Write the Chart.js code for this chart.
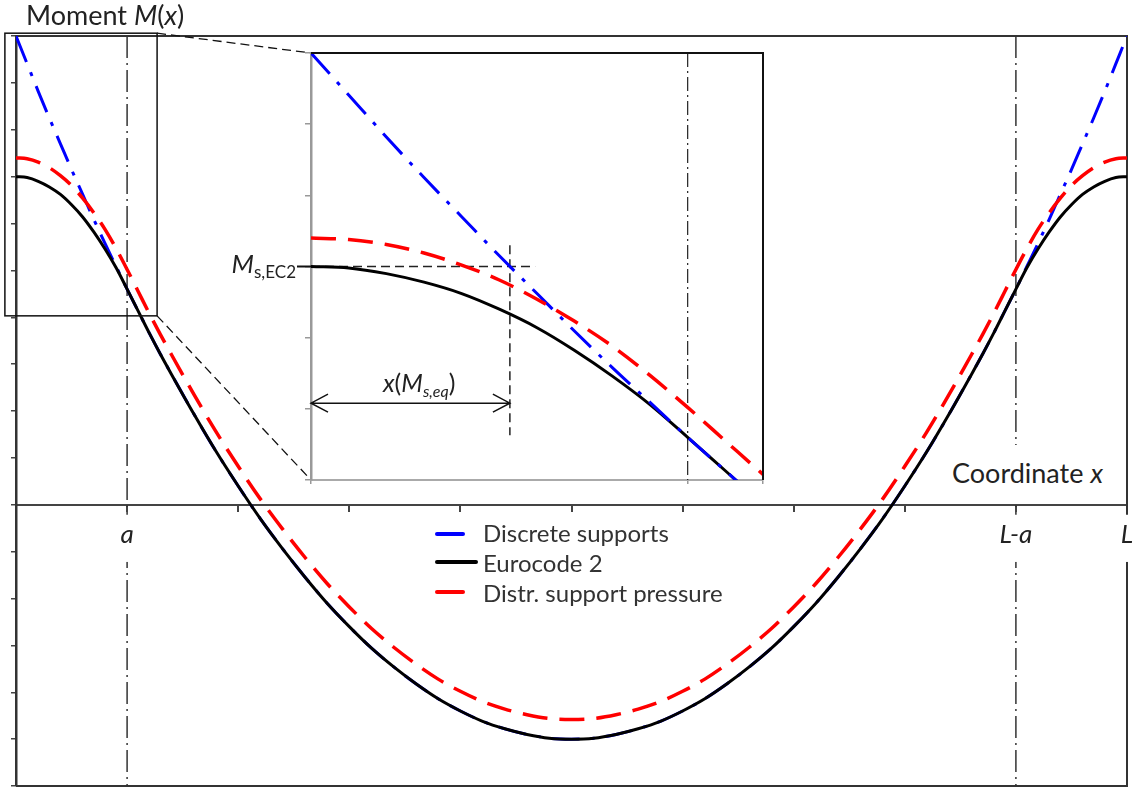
<!DOCTYPE html>
<html><head><meta charset="utf-8">
<script src="https://cdn.jsdelivr.net/npm/chart.js@4.4.0/dist/chart.umd.min.js"></script>
<style>
html,body{margin:0;padding:0;background:#fff;}
#wrap{position:relative;width:1134px;height:787px;overflow:hidden;font-family:Lato,'Open Sans',sans-serif;color:#222;}
canvas{position:absolute;}
#main{left:0;top:0;}
#inset{left:290px;top:40px;}
.lbl{position:absolute;white-space:nowrap;line-height:1;}
.sw{position:absolute;height:4px;border-radius:2px;}
</style></head>
<body><div id="wrap">
<canvas id="main" width="1134" height="787"></canvas>
<canvas id="inset" width="480" height="450"></canvas>
<div class="lbl" style="left:26px;top:1px;font-size:27px;">Moment <i>M</i>(<i>x</i>)</div>
<div class="lbl" style="left:945px;top:445px;width:180px;height:58px;background:#fff;"><span class="lbl" style="left:7px;top:14px;font-size:27px;">Coordinate <i>x</i></span></div>
<div class="sw" style="left:435px;top:532px;width:30px;background:#0000ff;"></div>
<div class="sw" style="left:435px;top:560px;width:43px;background:#000;"></div>
<div class="sw" style="left:435px;top:590px;width:30px;background:#ff0000;"></div>
<div class="lbl" id="lg0" style="left:483px;top:521px;font-size:24px;color:#333;"></div>
<div class="lbl" id="lg1" style="left:483px;top:551px;font-size:24px;color:#333;"></div>
<div class="lbl" id="lg2" style="left:483px;top:581px;font-size:24px;color:#333;"></div>
<div class="lbl" style="left:196px;width:100px;text-align:right;top:250px;font-size:26px;"><i>M</i><span style="font-size:17px;position:relative;top:5px;">s,EC2</span></div>
<div class="lbl" style="left:383px;top:370px;font-size:25px;"><i>x</i>(<i>M</i><span style="font-size:16px;position:relative;top:5px;font-style:italic;">s,eq</span>)</div>
</div>
<script>
// ---- data (x in units of span, L = 10, a = 1) ----
const xs = [0,0.1,0.2,0.3,0.4,0.5,0.6,0.7,0.8,0.9,1.0,1.1,1.2,1.3,1.4,
  1.6,1.8,2.0,2.2,2.4,2.6,2.8,3.0,3.2,3.4,3.6,3.8,4.0,4.2,4.4,4.6,4.8,5.0,
  5.2,5.4,5.6,5.8,6.0,6.2,6.4,6.6,6.8,7.0,7.2,7.4,7.6,7.8,8.0,8.2,8.4,
  8.6,8.7,8.8,8.9,9.0,9.1,9.2,9.3,9.4,9.5,9.6,9.7,9.8,9.9,10];
const discreteSupports = [10.00,9.41,8.82,8.25,7.70,7.15,6.62,6.09,5.58,5.09,4.60,4.13,3.66,3.21,2.78,
  1.94,1.14,0.40,-0.30,-0.94,-1.54,-2.10,-2.60,-3.06,-3.46,-3.82,-4.14,-4.40,-4.62,-4.78,-4.90,-4.98,-5.00,
  -4.98,-4.90,-4.78,-4.62,-4.40,-4.14,-3.82,-3.46,-3.06,-2.60,-2.10,-1.54,-0.94,-0.30,0.40,1.14,1.94,
  2.78,3.21,3.66,4.13,4.60,5.09,5.58,6.09,6.62,7.15,7.70,8.25,8.82,9.41,10.00];
const eurocode2 = [7.00,6.98,6.90,6.78,6.62,6.40,6.14,5.82,5.46,5.06,4.60,4.13,3.66,3.21,2.78,
  1.94,1.14,0.40,-0.30,-0.94,-1.54,-2.10,-2.60,-3.06,-3.46,-3.82,-4.14,-4.40,-4.62,-4.78,-4.90,-4.98,-5.00,
  -4.98,-4.90,-4.78,-4.62,-4.40,-4.14,-3.82,-3.46,-3.06,-2.60,-2.10,-1.54,-0.94,-0.30,0.40,1.14,1.94,
  2.78,3.21,3.66,4.13,4.60,5.06,5.46,5.82,6.14,6.40,6.62,6.78,6.90,6.98,7.00];
const distrSupportPressure = [7.40,7.38,7.31,7.19,7.02,6.81,6.54,6.23,5.88,5.47,5.02,4.55,4.08,3.63,3.20,
  2.36,1.56,0.82,0.12,-0.52,-1.12,-1.68,-2.18,-2.64,-3.04,-3.40,-3.72,-3.98,-4.20,-4.36,-4.48,-4.56,-4.58,
  -4.56,-4.48,-4.36,-4.20,-3.98,-3.72,-3.40,-3.04,-2.64,-2.18,-1.68,-1.12,-0.52,0.12,0.82,1.56,2.36,
  3.20,3.63,4.08,4.55,5.02,5.47,5.88,6.23,6.54,6.81,7.02,7.19,7.31,7.38,7.40];
const seriesNames = ['Discrete supports', 'Eurocode 2', 'Distr. support pressure'];
const xTickValues = [1, 9, 10];
const xTickLabels = ['a', 'L-a', 'L'];
const supportLines = [1, 9];          // x = a and x = L-a
const mainRangeX = [0, 10], mainRangeY = [-6, 10];
const insetRangeX = [0, 1.2], insetRangeY = [4, 10];
const zoomBox = {x0: -0.1, x1: 1.27, y0: 4.03, y1: 10.06};
const msEC2 = 7.0;          // M_s,EC2
const xMsEq = 0.528;        // x(M_s,eq)
const arrowLevel = 5.08;    // M level of the dimension arrow
const hLineEnd = 0.595, vLineTop = 7.30, vLineBottom = 4.63;

seriesNames.forEach((n, i) => document.getElementById('lg' + i).textContent = n);
const pts = arr => xs.map((x, i) => ({x, y: arr[i]}));

function makeSets(order) {
  return [
    {label: seriesNames[0], data: pts(discreteSupports), borderColor: '#0000ff', borderWidth: 3,
     borderDash: [28, 11, 4, 11], order: order[0]},
    {label: seriesNames[1], data: pts(eurocode2), borderColor: '#000000', borderWidth: 3, order: order[1]},
    {label: seriesNames[2], data: pts(distrSupportPressure), borderColor: '#ff0000', borderWidth: 3.5,
     borderDash: [25, 12], order: order[2]}
  ].map(d => Object.assign(d, {pointRadius: 0, fill: false, cubicInterpolationMode: 'monotone'}));
}

// ---------------- inset ----------------
const insetDecor = {
  id: 'insetDecor',
  beforeDraw(c) {
    const {ctx, chartArea: a} = c;
    ctx.save(); ctx.fillStyle = '#fff'; ctx.fillRect(a.left, a.top, a.right - a.left, a.bottom - a.top); ctx.restore();
  },
  beforeDatasetsDraw(c) {
    const {ctx, chartArea: a, scales: {x, y}} = c;
    ctx.save();
    ctx.strokeStyle = '#222'; ctx.lineWidth = 1.2; ctx.setLineDash([14, 4, 2, 4]);
    const px = x.getPixelForValue(supportLines[0]);
    ctx.beginPath(); ctx.moveTo(px, a.top); ctx.lineTo(px, a.bottom); ctx.stroke();
    ctx.lineWidth = 1.5; ctx.setLineDash([9, 5]);
    const yM = y.getPixelForValue(msEC2);
    ctx.beginPath(); ctx.moveTo(a.left, yM); ctx.lineTo(x.getPixelForValue(hLineEnd), yM); ctx.stroke();
    const xe = x.getPixelForValue(xMsEq);
    ctx.beginPath(); ctx.moveTo(xe, y.getPixelForValue(vLineTop)); ctx.lineTo(xe, y.getPixelForValue(vLineBottom)); ctx.stroke();
    ctx.restore();
  },
  afterDatasetsDraw(c) {
    const {ctx, chartArea: a, scales: {x, y}} = c;
    ctx.save();
    ctx.strokeStyle = '#111'; ctx.lineWidth = 2;
    ctx.beginPath(); ctx.moveTo(a.left, a.top); ctx.lineTo(a.right, a.top); ctx.lineTo(a.right, a.bottom); ctx.stroke();
    const yM = y.getPixelForValue(msEC2);
    ctx.beginPath(); ctx.moveTo(a.left - 14, yM); ctx.lineTo(a.left, yM); ctx.stroke();
    const ya = y.getPixelForValue(arrowLevel), x0 = x.getPixelForValue(0), x1 = x.getPixelForValue(xMsEq);
    ctx.lineWidth = 1.5;
    ctx.beginPath(); ctx.moveTo(x0, ya); ctx.lineTo(x1, ya);
    ctx.moveTo(x0 + 17, ya - 9); ctx.lineTo(x0, ya); ctx.lineTo(x0 + 17, ya + 9);
    ctx.moveTo(x1 - 17, ya - 9); ctx.lineTo(x1, ya); ctx.lineTo(x1 - 17, ya + 9);
    ctx.stroke();
    ctx.restore();
  }
};

const noPad = s => { s.paddingLeft = 0; s.paddingRight = 0; s.paddingTop = 0; s.paddingBottom = 0; };

const insetChart = new Chart(document.getElementById('inset'), {
  type: 'line',
  data: {datasets: makeSets([1, 2, 0])},
  options: {
    responsive: false, animation: false, events: [],
    layout: {padding: {left: 15, top: 13, right: 7, bottom: 10}},
    plugins: {legend: {display: false}, tooltip: {enabled: false}},
    scales: {
      x: {type: 'linear', min: insetRangeX[0], max: insetRangeX[1],
          ticks: {display: false, stepSize: 1},
          grid: {drawOnChartArea: false, tickLength: 4, color: '#999', lineWidth: 1.5},
          border: {color: '#aaa', width: 2},
          afterFit: s => { s.height = 0; noPad(s); }},
      y: {type: 'linear', min: insetRangeY[0], max: insetRangeY[1],
          ticks: {display: false, stepSize: 1},
          grid: {drawOnChartArea: false, tickLength: 6, color: '#999', lineWidth: 1.5},
          border: {color: '#999', width: 2.5},
          afterFit: s => { s.width = 6; noPad(s); }}
    }
  },
  plugins: [insetDecor]
});

// ---------------- main chart ----------------
const INSET_LEFT = 290, INSET_TOP = 40;
const mainDecor = {
  id: 'mainDecor',
  beforeDatasetsDraw(c) {
    const {ctx, chartArea: a, scales: {x}} = c;
    ctx.save();
    ctx.strokeStyle = '#333'; ctx.lineWidth = 2;
    ctx.beginPath(); ctx.moveTo(a.left, a.top); ctx.lineTo(a.right, a.top); ctx.lineTo(a.right, a.bottom); ctx.lineTo(a.left, a.bottom); ctx.stroke();
    ctx.lineWidth = 1.5; ctx.setLineDash([22, 5, 2, 5]);
    supportLines.forEach(v => {
      const px = x.getPixelForValue(v);
      ctx.beginPath(); ctx.moveTo(px, a.top); ctx.lineTo(px, a.bottom); ctx.stroke();
    });
    ctx.restore();
  },
  afterDatasetsDraw(c) {
    const {ctx, scales: {x, y}} = c;
    const bx0 = x.getPixelForValue(zoomBox.x0), bx1 = x.getPixelForValue(zoomBox.x1);
    const by0 = y.getPixelForValue(zoomBox.y1), by1 = y.getPixelForValue(zoomBox.y0);
    const ia = insetChart.chartArea;
    ctx.save();
    ctx.strokeStyle = '#111'; ctx.lineWidth = 1.5;
    ctx.strokeRect(bx0, by0, bx1 - bx0, by1 - by0);
    ctx.setLineDash([9, 5]); ctx.lineWidth = 1.3;
    ctx.beginPath();
    ctx.moveTo(bx1, by0); ctx.lineTo(INSET_LEFT + ia.left, INSET_TOP + ia.top);
    ctx.moveTo(bx1, by1); ctx.lineTo(INSET_LEFT + ia.left, INSET_TOP + ia.bottom);
    ctx.stroke();
    ctx.restore();
  }
};

new Chart(document.getElementById('main'), {
  type: 'line',
  data: {datasets: makeSets([2, 1, 0])},
  options: {
    responsive: false, animation: false, events: [],
    layout: {padding: {left: 8, top: 36, right: 7, bottom: 1}},
    plugins: {legend: {display: false}, tooltip: {enabled: false}},
    scales: {
      x: {type: 'linear', position: {y: 0}, min: mainRangeX[0], max: mainRangeX[1],
          ticks: {stepSize: 1, autoSkip: false, maxRotation: 0, padding: 8, z: 1,
                  color: '#222', font: {family: 'Lato', size: 26, style: 'italic'},
                  callback: v => { const i = xTickValues.indexOf(v); return i >= 0 ? xTickLabels[i] : ''; },
                  showLabelBackdrop: c => c.tick && xTickValues.includes(c.tick.value),
                  backdropColor: '#fff', backdropPadding: {top: 4, bottom: 12, left: 3, right: 3}},
          grid: {drawOnChartArea: false, tickLength: 6, color: '#444', lineWidth: 2},
          border: {color: '#444', width: 2},
          afterFit: noPad},
      y: {type: 'linear', min: mainRangeY[0], max: mainRangeY[1],
          ticks: {display: false, stepSize: 1},
          grid: {drawOnChartArea: false, tickLength: 5, color: '#444', lineWidth: 1.5},
          border: {color: '#333', width: 2.5},
          afterFit: s => { s.width = 8; noPad(s); }}
    }
  },
  plugins: [mainDecor]
});
</script>
</body></html>
